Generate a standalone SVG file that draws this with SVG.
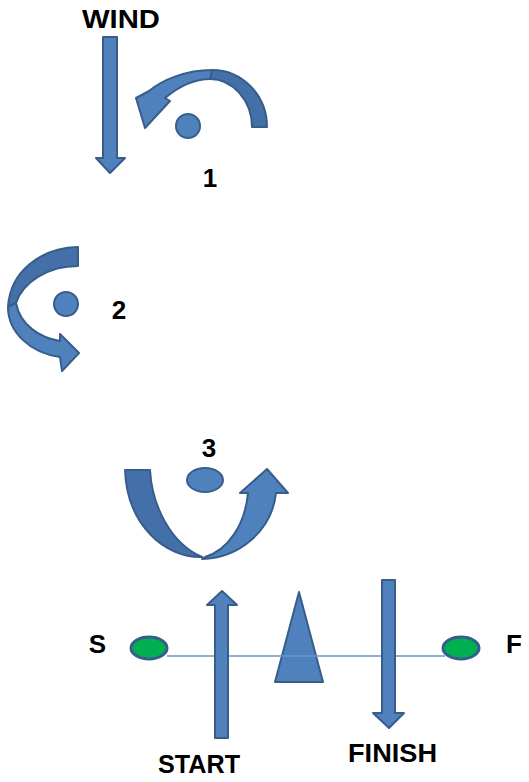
<svg xmlns="http://www.w3.org/2000/svg" width="529" height="782" viewBox="0 0 529 782">
<style>
.lbl{font-family:"Liberation Sans",Arial,sans-serif;font-weight:bold;font-size:26px;fill:#000}
.blue{fill:#4F81BD;stroke:#385D8A;stroke-width:2;stroke-linejoin:round}
.dark{fill:#4470A9;stroke:#385D8A;stroke-width:2;stroke-linejoin:round}
.green{fill:#00B050;stroke:#385D8A;stroke-width:3}
.course{stroke:#6A95CC;stroke-width:1.5;fill:none}
</style>
<rect width="529" height="782" fill="#fff"/>
<g id="wind">
  <path class="blue" d="M103,37 L117,37 L117,158 L125,158 L110,173 L96,158 L103,158 Z"/>
  <text class="lbl" x="82" y="28" textLength="78" lengthAdjust="spacingAndGlyphs">WIND</text>
</g>
<g id="step1">
  <path class="dark" d="M212,70 C242,70 267,95 267,127 L252,127 C252,100 232,79 210,79 Z"/>
  <path class="blue" d="M212,70 C186,70 162,80 149,91 L136,98 L145,128 L170,101 L165,98 C177,88 192,79 210,79 Z"/>
  <circle class="blue" cx="188" cy="126" r="12"/>
  <text class="lbl" x="210" y="187" text-anchor="middle">1</text>
</g>
<g id="step2">
  <path class="dark" d="M78,247 C40,248 10,272 8,307 L16,303 C23,282 48,266 78,266 Z"/>
  <path class="blue" d="M8,307 C8,332 30,353 60,357 L62,371 L79,353 L60,334 L60,341 C40,338 20,325 16,303 Z"/>
  <circle class="blue" cx="66" cy="304" r="12"/>
  <text class="lbl" x="119" y="319" text-anchor="middle">2</text>
</g>
<g id="step3">
  <text class="lbl" x="209" y="457" text-anchor="middle">3</text>
  <ellipse class="blue" cx="205" cy="480" rx="18" ry="12"/>
  <path class="dark" d="M125,470 L150,470 C152,505 170,543 202,557 C165,558 127,525 125,470 Z"/>
  <path class="blue" d="M202,559 C240,558 272,530 276,493 L288,493 L267,469 L240,493 L248,493 C245,525 228,550 205,557 Z"/>
</g>
<g id="mark">
  <path class="blue" d="M299,592 L323,682 L275,682 Z"/>
</g>
<g id="connectors">
  <line class="course" x1="167" y1="656" x2="445" y2="656"/>
</g>
<g id="startPin">
  <ellipse class="green" cx="149" cy="648" rx="18" ry="11"/>
  <text class="lbl" x="97.5" y="653" text-anchor="middle">S</text>
</g>
<g id="finishPin">
  <ellipse class="green" cx="461" cy="648" rx="18" ry="11"/>
  <text class="lbl" x="514" y="653" text-anchor="middle">F</text>
</g>
<g id="start">
  <path class="blue" d="M215,738 L228,738 L228,605 L237,605 L222,591 L207,605 L215,605 Z"/>
  <text class="lbl" x="158" y="773" textLength="82" lengthAdjust="spacingAndGlyphs">START</text>
</g>
<g id="finish">
  <path class="blue" d="M382,580 L395,580 L395,713 L404,713 L389,728 L373,713 L382,713 Z"/>
  <text class="lbl" x="348" y="762" textLength="89" lengthAdjust="spacingAndGlyphs">FINISH</text>
</g>
</svg>
